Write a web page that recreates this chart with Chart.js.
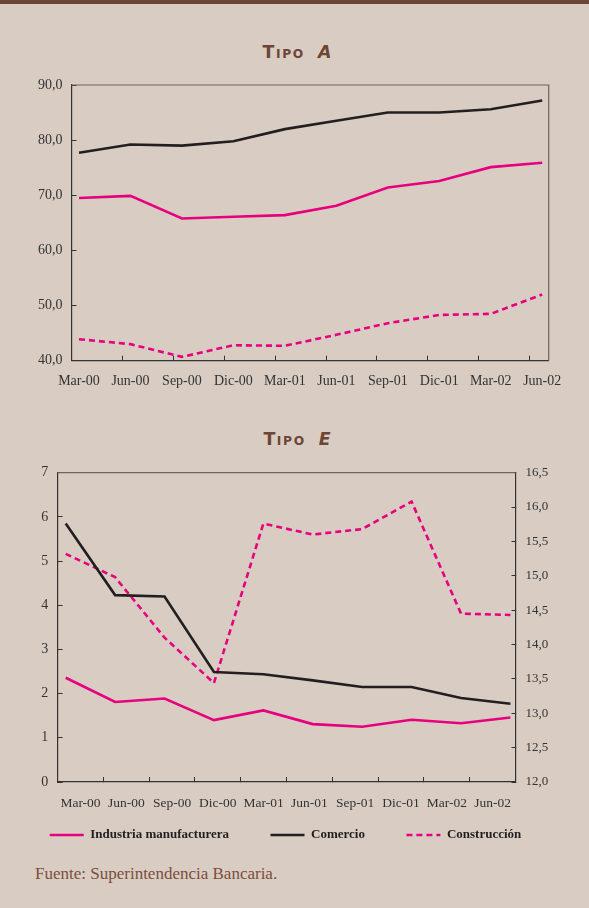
<!DOCTYPE html>
<html lang="es">
<head>
<meta charset="utf-8">
<script src="https://cdn.jsdelivr.net/npm/chart.js"></script>
<style>
  html, body { margin: 0; padding: 0; }
  body { width: 589px; height: 908px; background: #d9cdc3; position: relative; overflow: hidden; }
  #bar { position: absolute; left: 0; top: 0; width: 589px; height: 4px; background: #6b4535; }
  .ttl { position: absolute; left: 0; width: 594px; text-align: center; color: #6e4535;
         font-family: 'DejaVu Sans', sans-serif; font-weight: bold; font-size: 17.4px; line-height: 22px; letter-spacing: 1.6px; white-space: nowrap; }
  .ttl .sc { font-size: 12.3px; }
  .ttl i { font-size: 17.4px; margin-left: 13px; letter-spacing: 0; }
  canvas { position: absolute; left: 0; }
  #note { position: absolute; left: 35px; top: 864px; font-family: 'Liberation Serif', serif; font-size: 17px; line-height: 20px; color: #7b4e3e; }
</style>
</head>
<body>
<div id="bar"></div>
<div class="ttl" style="top:40.5px">T<span class="sc">IPO</span><i>A</i></div>
<canvas id="cA" width="589" height="400" style="top:0"></canvas>
<div class="ttl" style="top:428px">T<span class="sc">IPO</span><i>E</i></div>
<canvas id="cE" width="589" height="460" style="top:400px"></canvas>
<div id="note">Fuente: Superintendencia Bancaria.</div>
<script>
// ---- data ----
const categories = ['Mar-00','Jun-00','Sep-00','Dic-00','Mar-01','Jun-01','Sep-01','Dic-01','Mar-02','Jun-02'];
const seriesNames = ['Industria manufacturera', 'Comercio', 'Construcción'];
// Tipo A
const aIndustria    = [69.5, 69.9, 65.8, 66.1, 66.4, 68.1, 71.4, 72.6, 75.1, 75.9];
const aComercio     = [77.7, 79.2, 79.0, 79.8, 82.0, 83.5, 85.0, 85.0, 85.6, 87.2];
const aConstruccion = [43.9, 43.0, 40.7, 42.8, 42.7, 44.7, 46.8, 48.3, 48.5, 52.0];
const aYTicks = [40, 50, 60, 70, 80, 90];
// Tipo E
const eIndustria    = [2.36, 1.81, 1.89, 1.40, 1.62, 1.31, 1.25, 1.41, 1.33, 1.46];
const eComercio     = [5.85, 4.23, 4.20, 2.49, 2.44, 2.30, 2.15, 2.15, 1.90, 1.77];
const eConstruccion = [15.32, 14.98, 14.10, 13.44, 15.76, 15.60, 15.68, 16.08, 14.45, 14.43];
const eLeftTicks  = [0, 1, 2, 3, 4, 5, 6, 7];
const eRightTicks = [12, 12.5, 13, 13.5, 14, 14.5, 15, 15.5, 16, 16.5];

// ---- styles ----
const MAGENTA = '#e6007e';
const BLACK = '#231f20';
const AXIS = '#333333';
const FRAME = '#6b6562';
const TXT = '#333333';
const SERIF = "'Liberation Serif', 'Times New Roman', serif";
Chart.defaults.font.family = SERIF;
Chart.defaults.font.size = 13;
Chart.defaults.color = TXT;

const comma = v => Number(v).toFixed(1).replace('.', ',');
const pts = arr => arr.map((v, i) => ({ x: i, y: v }));
const line = (label, arr, color, dash, yAxisID) => ({
  label, data: pts(arr), borderColor: color, backgroundColor: color,
  borderWidth: 2.6, borderDash: dash || [], pointRadius: 0, pointHoverRadius: 0,
  tension: 0, fill: false, yAxisID: yAxisID || 'y', xAxisID: 'x'
});

const framePlugin = {
  id: 'frame',
  beforeDatasetsDraw(chart, args, opts) {
    const { ctx, chartArea: a } = chart;
    ctx.save();
    ctx.strokeStyle = FRAME;
    ctx.lineWidth = 1.2;
    ctx.beginPath();
    ctx.moveTo(a.left, a.top);
    ctx.lineTo(a.right, a.top);
    if (opts.right) ctx.lineTo(a.right, a.bottom);
    ctx.stroke();
    ctx.restore();
  }
};

// ---- Chart Tipo A ----
new Chart(document.getElementById('cA'), {
  type: 'line',
  data: {
    datasets: [
      line(seriesNames[0], aIndustria, MAGENTA),
      line(seriesNames[1], aComercio, BLACK),
      line(seriesNames[2], aConstruccion, MAGENTA, [6, 4])
    ]
  },
  plugins: [framePlugin],
  options: {
    responsive: false, animation: false, devicePixelRatio: 1,
    layout: { autoPadding: false, padding: { top: 85, right: 40.3, bottom: 0, left: 0 } },
    plugins: { legend: { display: false }, tooltip: { enabled: false }, frame: { right: true } },
    scales: {
      x: {
        type: 'linear', position: 'bottom', weight: 1, min: -0.146, max: 9.126,
        afterBuildTicks: s => { s.ticks = categories.map((c, i) => ({ value: i })); },
        afterFit: s => { s.height = 39.3; },
        ticks: { callback: v => categories[v], padding: 12, maxRotation: 0, autoSkip: false, color: TXT, font: { size: 14 } },
        grid: { display: false, drawTicks: false },
        border: { display: true, color: AXIS, width: 1.2 }
      },
      xt: {
        type: 'linear', position: 'bottom', weight: 0, min: 0, max: 9.375,
        afterBuildTicks: s => { s.ticks = categories.slice(1).map((c, i) => ({ value: i + 1 })); },
        afterFit: s => { s.height = 0; },
        ticks: { display: false },
        grid: { display: true, drawOnChartArea: false, drawTicks: true, tickLength: -5, color: AXIS, lineWidth: 1 },
        border: { display: false }
      },
      y: {
        type: 'linear', position: 'left', min: aYTicks[0], max: aYTicks[aYTicks.length - 1],
        afterBuildTicks: s => { s.ticks = aYTicks.map(v => ({ value: v })); },
        afterFit: s => { s.width = 71.5; },
        ticks: { callback: v => comma(v), padding: 14, color: TXT, font: { size: 14 } },
        grid: { display: true, drawOnChartArea: false, drawTicks: true, tickLength: -5, color: AXIS, lineWidth: 1 },
        border: { display: true, color: AXIS, width: 1.2 }
      }
    }
  }
});

// ---- Chart Tipo E ----
const defaultLabels = Chart.defaults.plugins.legend.labels.generateLabels;
new Chart(document.getElementById('cE'), {
  type: 'line',
  data: {
    datasets: [
      line(seriesNames[0], eIndustria, MAGENTA),
      line(seriesNames[1], eComercio, BLACK),
      line(seriesNames[2], eConstruccion, MAGENTA, [6, 4], 'y2')
    ]
  },
  plugins: [framePlugin],
  options: {
    responsive: false, animation: false, devicePixelRatio: 1,
    layout: { autoPadding: false, padding: { top: 72.7, right: 18, bottom: 8.5, left: 0 } },
    plugins: {
      tooltip: { enabled: false },
      frame: { right: false },
      legend: {
        display: true, position: 'bottom',
        labels: {
          usePointStyle: true, pointStyle: 'line', pointStyleWidth: 34, padding: 41.5,
          color: BLACK, font: { family: SERIF, size: 13, weight: 'bold' },
          generateLabels: chart => defaultLabels(chart).map(item => {
            const ds = chart.data.datasets[item.datasetIndex];
            item.lineDash = ds.borderDash;
            item.lineWidth = ds.borderWidth;
            item.strokeStyle = ds.borderColor;
            item.lineCap = 'butt';
            return item;
          })
        }
      }
    },
    scales: {
      x: { type: 'linear', display: false, min: -0.164, max: 9.103 },
      xc: {
        type: 'category', position: 'bottom', labels: categories, offset: true,
        afterFit: s => { s.height = 5; },
        ticks: { mirror: true, padding: -30, maxRotation: 0, autoSkip: false, color: TXT, font: { size: 13.5 } },
        grid: { display: true, offset: true, drawOnChartArea: false, drawTicks: true, tickLength: -5, color: AXIS, lineWidth: 1 },
        border: { display: true, color: AXIS, width: 1.2 }
      },
      y: {
        type: 'linear', position: 'left', min: eLeftTicks[0], max: eLeftTicks[eLeftTicks.length - 1],
        afterBuildTicks: s => { s.ticks = eLeftTicks.map(v => ({ value: v })); },
        afterFit: s => { s.width = 57.6; },
        ticks: { callback: v => String(v), padding: 14.3, color: TXT, font: { size: 14 } },
        grid: { display: true, drawOnChartArea: false, drawTicks: true, tickLength: -5, color: AXIS, lineWidth: 1 },
        border: { display: true, color: AXIS, width: 1.2 }
      },
      y2: {
        type: 'linear', position: 'right', min: eRightTicks[0], max: eRightTicks[eRightTicks.length - 1],
        afterBuildTicks: s => { s.ticks = eRightTicks.map(v => ({ value: v })); },
        afterFit: s => { s.width = 55.5; },
        ticks: { callback: v => comma(v), padding: 14, color: TXT, font: { size: 13 } },
        grid: { display: true, drawOnChartArea: false, drawTicks: true, tickLength: -4, color: AXIS, lineWidth: 1 },
        border: { display: true, color: AXIS, width: 1.2 }
      }
    }
  }
});
</script>
</body>
</html>
